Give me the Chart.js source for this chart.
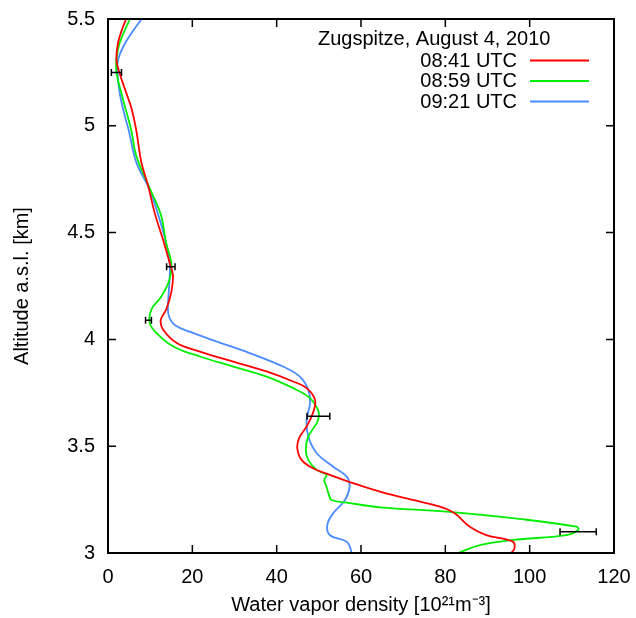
<!DOCTYPE html>
<html>
<head>
<meta charset="utf-8">
<script src="https://cdn.jsdelivr.net/npm/chart.js@4/dist/chart.umd.min.js"></script>
<style>
  html, body { margin: 0; padding: 0; background: #fff; }
  #wrap { width: 636px; height: 618px; }
</style>
</head>
<body>
<div id="wrap"><canvas id="profile" width="636" height="618"></canvas></div>
<script>
// profiles: altitude [km] and water vapor density [10^21 m^-3]
const redAlt = [5.50, 5.46, 5.39, 5.31, 5.25, 5.15, 5.08, 4.98, 4.83, 4.72, 4.59, 4.47, 4.36, 4.30, 4.22, 4.14, 4.09, 4.045, 3.983, 3.943, 3.896, 3.85, 3.803, 3.772, 3.717, 3.655, 3.592, 3.537, 3.49, 3.436, 3.397, 3.366, 3.327, 3.287, 3.25, 3.217, 3.186, 3.123, 3.084, 3.053, 3.022, 3.00];
const redVal = [4.3, 3.5, 2.4, 2.0, 2.7, 4.4, 5.6, 6.7, 7.9, 9.5, 11.1, 13.0, 14.6, 15.4, 15.0, 13.8, 12.5, 13.1, 16.3, 21.8, 29.7, 37.6, 43.9, 47.1, 49.1, 48.6, 47.1, 45.3, 44.9, 45.9, 48.6, 52.6, 58.1, 64.5, 72.0, 78.7, 82.2, 85.8, 89.7, 96.0, 96.4, 95.6];

const greenAlt = [5.50, 5.39, 5.31, 5.25, 5.15, 4.98, 4.86, 4.69, 4.58, 4.45, 4.36, 4.28, 4.20, 4.14, 4.076, 4.03, 3.967, 3.92, 3.873, 3.826, 3.772, 3.725, 3.67, 3.64, 3.608, 3.545, 3.483, 3.436, 3.389, 3.366, 3.342, 3.311, 3.272, 3.248, 3.236, 3.214, 3.194, 3.163, 3.123, 3.108, 3.084, 3.061, 3.037, 3.00];
const greenVal = [5.2, 2.8, 2.0, 2.0, 3.2, 5.5, 6.7, 10.3, 12.6, 13.8, 15.0, 14.6, 12.6, 10.3, 9.9, 11.5, 15.5, 21.8, 29.7, 37.6, 43.9, 47.9, 49.8, 50.0, 49.5, 47.5, 46.9, 47.5, 49.5, 51.8, 51.3, 51.8, 52.4, 53.0, 56.6, 64.5, 80.3, 96.0, 111.1, 111.5, 108.7, 96.0, 88.2, 83.0];

const blueAlt = [5.50, 5.435, 5.37, 5.31, 5.255, 5.15, 5.045, 4.98, 4.83, 4.70, 4.59, 4.48, 4.36, 4.28, 4.14, 4.10, 4.065, 4.035, 3.99, 3.936, 3.873, 3.826, 3.764, 3.701, 3.623, 3.545, 3.467, 3.404, 3.358, 3.311, 3.248, 3.186, 3.131, 3.084, 3.053, 3.022, 3.00];
const blueVal = [8.0, 5.6, 3.6, 2.4, 2.2, 2.8, 4.0, 4.9, 6.7, 9.9, 11.8, 13.4, 14.6, 14.6, 14.2, 14.6, 16.0, 19.5, 25.8, 33.6, 41.5, 45.5, 47.5, 47.9, 47.1, 47.5, 49.5, 53.4, 56.6, 57.3, 56.2, 53.4, 52.0, 52.6, 56.6, 57.5, 57.7];

// error bars (horizontal)
const errAlt = [5.25, 4.34, 4.09, 3.64, 3.10];
const errVal = [2.0, 14.9, 9.6, 49.9, 111.5];
const errSize = [1.2, 1.0, 0.7, 2.7, 4.3];

const seriesNames = ['08:41 UTC', '08:59 UTC', '09:21 UTC'];
const seriesColors = ['#ff0000', '#00ee00', '#4a8cff'];
const keyTitle = 'Zugspitze, August 4, 2010';

const FONT = "'Liberation Sans', Arial, Helvetica, sans-serif";

function toPoints(alt, val) {
    return alt.map((a, i) => ({ x: val[i], y: a }));
}

// gnuplot-like frame, inward ticks, error bars and key
const decorations = {
    id: 'decorations',
    afterDatasetsDraw(chart) {
        const ctx = chart.ctx;
        const xs = chart.scales.x;
        const ys = chart.scales.y;
        const area = chart.chartArea;
        ctx.save();

        // error bars
        ctx.strokeStyle = '#000';
        ctx.lineWidth = 1.5;
        for (let i = 0; i < errAlt.length; i++) {
            const y = ys.getPixelForValue(errAlt[i]);
            const x0 = xs.getPixelForValue(errVal[i] - errSize[i]);
            const x1 = xs.getPixelForValue(errVal[i] + errSize[i]);
            ctx.beginPath();
            ctx.moveTo(x0, y); ctx.lineTo(x1, y);
            ctx.moveTo(x0, y - 3.5); ctx.lineTo(x0, y + 3.5);
            ctx.moveTo(x1, y - 3.5); ctx.lineTo(x1, y + 3.5);
            ctx.stroke();
        }

        // ticks pointing inward on all four sides
        const tl = 8;
        ctx.lineWidth = 1.5;
        ctx.beginPath();
        xs.ticks.forEach(t => {
            const x = xs.getPixelForValue(t.value);
            ctx.moveTo(x, area.bottom); ctx.lineTo(x, area.bottom - tl);
            ctx.moveTo(x, area.top); ctx.lineTo(x, area.top + tl);
        });
        ys.ticks.forEach(t => {
            const y = ys.getPixelForValue(t.value);
            ctx.moveTo(area.left, y); ctx.lineTo(area.left + tl, y);
            ctx.moveTo(area.right, y); ctx.lineTo(area.right - tl, y);
        });
        ctx.stroke();

        // frame
        ctx.lineWidth = 2;
        ctx.strokeRect(area.left, area.top, area.right - area.left, area.bottom - area.top);

        // key
        ctx.fillStyle = '#000';
        ctx.font = '20px ' + FONT;
        ctx.textBaseline = 'middle';
        ctx.textAlign = 'left';
        ctx.fillText(keyTitle, 318, 39);
        ctx.textAlign = 'right';
        const rows = [61, 81.5, 102];
        seriesNames.forEach((name, i) => {
            ctx.fillStyle = '#000';
            ctx.fillText(name, 517, rows[i]);
            ctx.strokeStyle = seriesColors[i];
            ctx.lineWidth = 2;
            ctx.beginPath();
            ctx.moveTo(530, rows[i] - 0.5);
            ctx.lineTo(589, rows[i] - 0.5);
            ctx.stroke();
        });
        ctx.restore();
    }
};

const ctx = document.getElementById('profile').getContext('2d');
new Chart(ctx, {
    type: 'scatter',
    data: {
        datasets: [
            { label: seriesNames[0], data: toPoints(redAlt, redVal), borderColor: seriesColors[0] },
            { label: seriesNames[1], data: toPoints(greenAlt, greenVal), borderColor: seriesColors[1] },
            { label: seriesNames[2], data: toPoints(blueAlt, blueVal), borderColor: seriesColors[2] }
        ].map(d => Object.assign(d, {
            showLine: true,
            fill: false,
            tension: 0.4,
            borderWidth: 1.8,
            pointRadius: 0,
            pointHoverRadius: 0
        }))
    },
    options: {
        responsive: false,
        animation: false,
        devicePixelRatio: 1,
        layout: { padding: { left: 0, right: 22, top: 19, bottom: 0 } },
        plugins: {
            legend: { display: false },
            tooltip: { enabled: false }
        },
        scales: {
            x: {
                type: 'linear',
                min: 0,
                max: 120,
                grid: { display: false, drawTicks: false },
                border: { display: false },
                ticks: { stepSize: 20, padding: 12, color: '#000', font: { family: FONT, size: 20 } },
                title: {
                    display: true,
                    text: 'Water vapor density [10²¹m⁻³]',
                    color: '#000',
                    font: { family: FONT, size: 20 },
                    padding: { top: 0, bottom: 1 }
                },
                afterFit(scale) {
                    scale.height = 65;
                    scale.paddingLeft = 0;
                    scale.paddingRight = 0;
                }
            },
            y: {
                type: 'linear',
                min: 3,
                max: 5.5,
                grid: { display: false, drawTicks: false },
                border: { display: false },
                ticks: {
                    stepSize: 0.5,
                    padding: 13,
                    color: '#000',
                    font: { family: FONT, size: 20 },
                    callback: v => String(v)
                },
                title: {
                    display: true,
                    text: 'Altitude a.s.l. [km]',
                    color: '#000',
                    font: { family: FONT, size: 20 },
                    padding: { top: 10, bottom: 0 }
                },
                afterFit(scale) {
                    scale.width = 108;
                    scale.paddingTop = 0;
                    scale.paddingBottom = 0;
                }
            }
        }
    },
    plugins: [decorations]
});
</script>
</body>
</html>
